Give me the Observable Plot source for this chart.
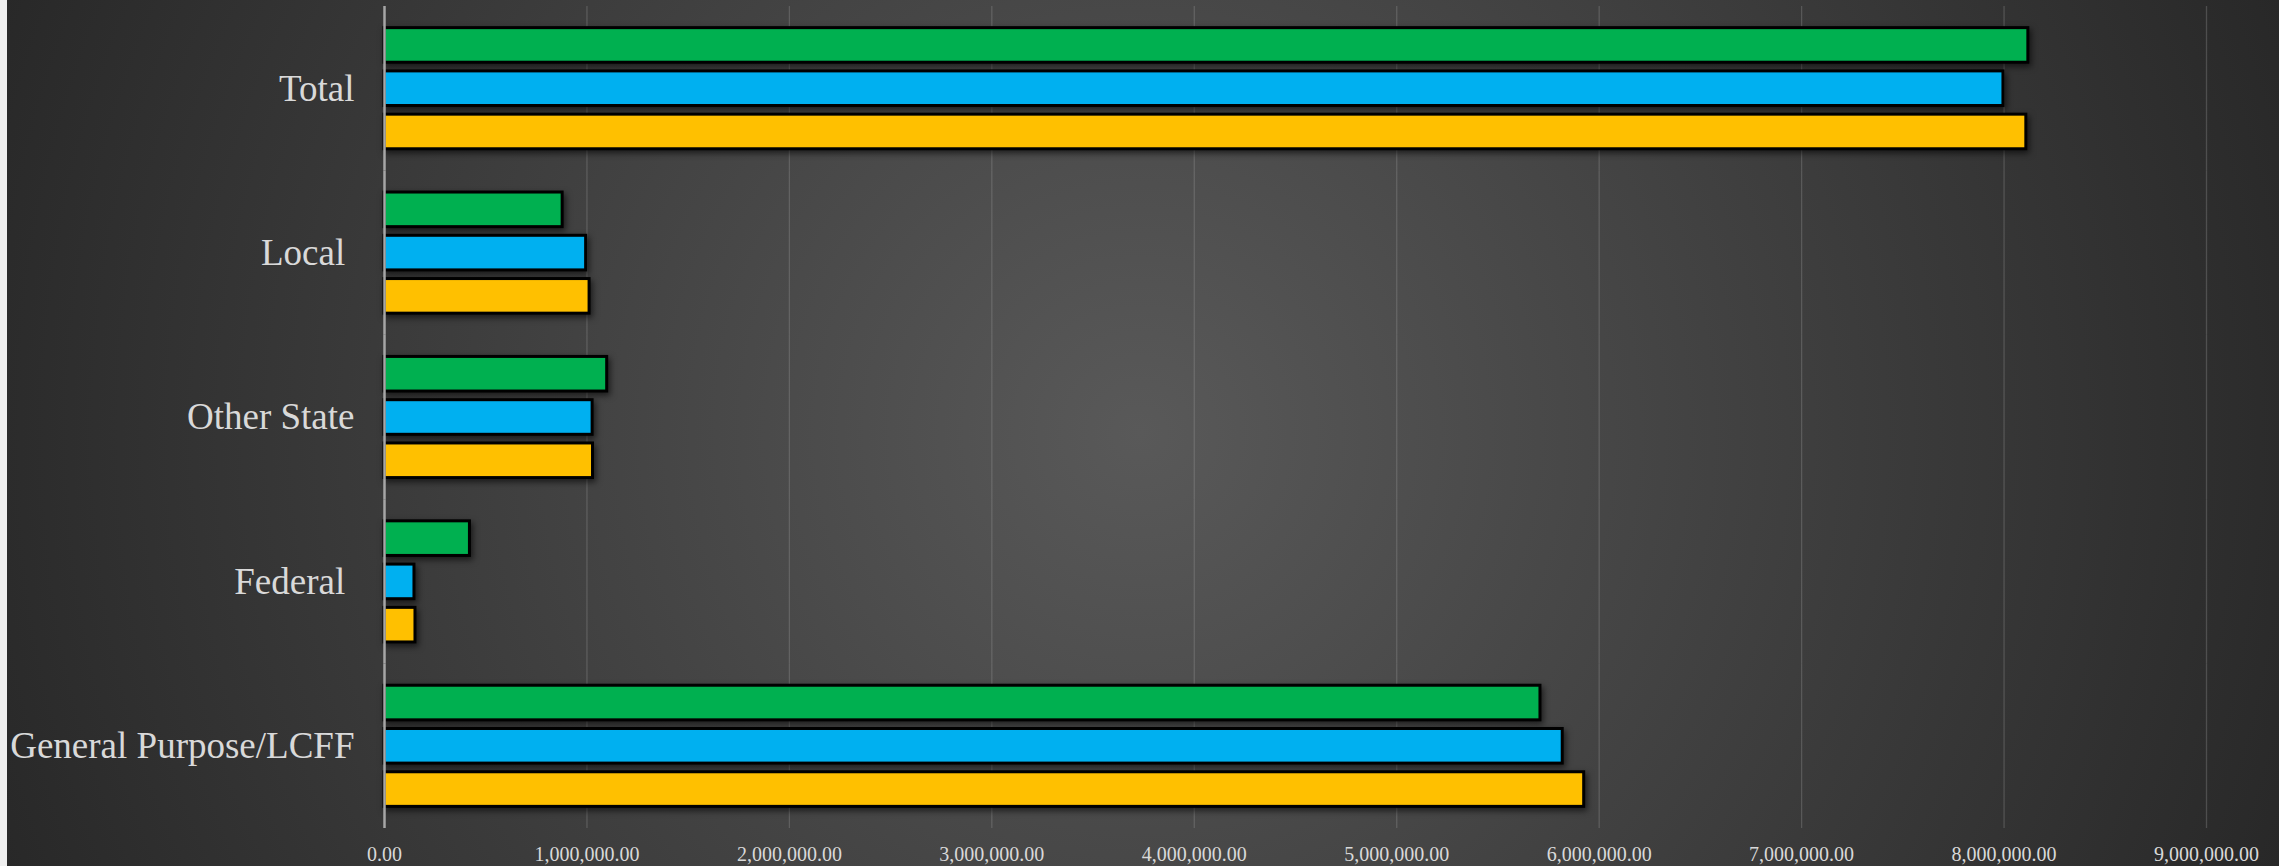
<!DOCTYPE html>
<html>
<head>
<meta charset="utf-8">
<script src="https://cdn.jsdelivr.net/npm/d3@7"></script>
<script src="https://cdn.jsdelivr.net/npm/@observablehq/plot@0.6"></script>
<style>
  html, body { margin: 0; padding: 0; background: #efefef; }
  #chart { padding-left: 7px; width: 2272px; height: 866px; }
  #chart svg { display: block; }
  #chart svg text { white-space: pre; font-family: "Liberation Serif", "DejaVu Serif", serif; }
  #chart g[aria-label^="fy-axis"] text { font-size: 37px; }
  #chart g[aria-label^="x-axis"] text { font-size: 20px; }
</style>
</head>
<body>
<div id="chart"></div>
<script>
// Categories (top to bottom)
const categories = ["Total", "Local ", "Other State", "Federal ", "General Purpose/LCFF"];
// Series (unnamed in the reference; order top to bottom within each group)
const seriesNames = ["Series 1", "Series 2", "Series 3"];
const seriesColors = ["#00b050", "#00b0f0", "#ffc000"];
// Values per category, same order as categories
const series1 = [8120000, 880000, 1100000, 422000, 5710000];
const series2 = [7997000, 996000, 1028000, 148000, 5820000];
const series3 = [8110000, 1013000, 1030000, 153000, 5926000];
// X axis ticks
const xTicks = [0, 1000000, 2000000, 3000000, 4000000, 5000000, 6000000, 7000000, 8000000, 9000000];

const valueLists = [series1, series2, series3];
const data = [];
categories.forEach((c, i) => {
  seriesNames.forEach((s, j) => {
    data.push({category: c, series: s, value: valueLists[j][i]});
  });
});

const fmt = d3.format(",.2f");

const chart = Plot.plot({
  width: 2272,
  height: 866,
  marginLeft: 377,
  marginRight: 73,
  marginTop: 6,
  marginBottom: 38,
  style: {
    background: "radial-gradient(circle 1219px at 1133px 433px, #595959 0%, #282828 100%)",
    color: "#d9d9d9",
    fontFamily: "Liberation Serif, serif"
  },
  x: {
    domain: [0, 9000000],
    ticks: xTicks,
    tickFormat: fmt,
    tickSize: 0,
    tickPadding: 18,
    label: null
  },
  y: {
    domain: seriesNames,
    paddingInner: 0.2,
    paddingOuter: 0.5,
    round: false,
    axis: null
  },
  fy: {
    domain: categories,
    padding: 0,
    round: false,
    axis: "left",
    tickSize: 0,
    tickPadding: 30,
    label: null
  },
  color: {
    domain: seriesNames,
    range: seriesColors
  },
  marks: [
    Plot.ruleX(xTicks.slice(1), {stroke: "#a0a0a0", strokeOpacity: 0.3, strokeWidth: 1.3}),
    Plot.barX(data, {
      x: "value",
      y: "series",
      fy: "category",
      fill: "series",
      stroke: "black",
      strokeWidth: 3
    }),
    Plot.ruleX([0], {stroke: "#a6a6a6", strokeWidth: 2.5})
  ]
});

d3.select(chart).selectAll('g[aria-label="bar"]')
  .style("filter", "drop-shadow(2px 3px 3px rgba(0,0,0,0.6))");

document.getElementById("chart").appendChild(chart);
</script>
</body>
</html>
